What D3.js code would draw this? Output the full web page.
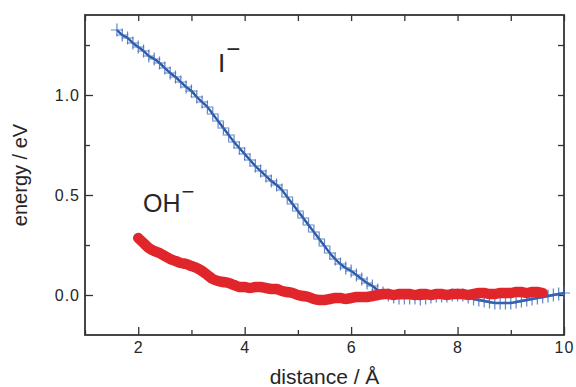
<!DOCTYPE html>
<html>
<head>
<meta charset="utf-8">
<script src="https://cdn.jsdelivr.net/npm/d3@7"></script>
<style>
  body { margin: 0; background: #fff; }
  text { font-family: "Liberation Sans", Arial, sans-serif; fill: #262626; }
</style>
</head>
<body>
<div id="chart"></div>
<script>
// I- (blue crosses): distance from 1.6 to 10.0 step 0.1
var iDist = d3.range(16, 101).map(function(d) { return d / 10; });
var iEnergy = [
  1.325, 1.30, 1.285, 1.26, 1.24, 1.22, 1.195, 1.18, 1.16, 1.135,
  1.11, 1.09, 1.065, 1.04, 1.02, 0.99, 0.965, 0.94, 0.905, 0.87,
  0.835, 0.80, 0.765, 0.735, 0.705, 0.675, 0.645, 0.62, 0.595, 0.57,
  0.55, 0.525, 0.49, 0.455, 0.42, 0.385, 0.35, 0.315, 0.28, 0.245,
  0.21, 0.18, 0.155, 0.135, 0.12, 0.10, 0.08, 0.06, 0.045, 0.025,
  0.01, 0.0, -0.01, -0.015, -0.015, -0.015, -0.015, -0.02, -0.015, -0.01,
  -0.005, -0.005, -0.005, 0.0, 0.0, 0.0, -0.01, -0.02, -0.025, -0.03,
  -0.035, -0.04, -0.04, -0.04, -0.04, -0.035, -0.03, -0.025, -0.02, -0.015,
  -0.01, -0.005, 0.0, 0.005, 0.01
];

// OH- (red band): distance from 2.0 to 9.6 step 0.1
var ohDist = d3.range(20, 97).map(function(d) { return d / 10; });
var ohEnergy = [
  0.285, 0.26, 0.235, 0.22, 0.21, 0.195, 0.18, 0.17, 0.16, 0.155,
  0.145, 0.135, 0.12, 0.10, 0.08, 0.07, 0.065, 0.06, 0.05, 0.04,
  0.04, 0.035, 0.04, 0.04, 0.035, 0.03, 0.03, 0.02, 0.015, 0.01,
  0.0, -0.005, -0.01, -0.02, -0.025, -0.025, -0.02, -0.015, -0.015, -0.02,
  -0.015, -0.01, -0.01, -0.01, -0.005, 0.0, 0.005, 0.005, 0.0, 0.005,
  0.005, 0.005, 0.0, 0.005, 0.005, 0.0, 0.005, 0.005, 0.0, 0.005,
  0.005, 0.005, 0.0, 0.005, 0.01, 0.01, 0.005, 0.005, 0.01, 0.01,
  0.01, 0.015, 0.015, 0.01, 0.015, 0.015, 0.01
];

var xTicks = [2, 4, 6, 8, 10];
var xMinor = [1, 3, 5, 7, 9];
var yTicks = [0.0, 0.5, 1.0];
var yMinor = [0.25, 0.75, 1.25];

var margin = {top: 15, right: 12, bottom: 52, left: 85},
    width = 576 - margin.left - margin.right,
    height = 387 - margin.top - margin.bottom;

var svg = d3.select("#chart")
  .append("svg")
    .attr("width", 576)
    .attr("height", 387)
  .append("g")
    .attr("transform", "translate(" + margin.left + "," + margin.top + ")");

var x = d3.scaleLinear().domain([1, 10]).range([0, width]);
var y = d3.scaleLinear().domain([-0.2, 1.4]).range([height, 0]);

var axisColor = "#333";

// axes with inward ticks, major labelled, minor shorter
function styleAxis(g) {
  g.select(".domain").remove();
  g.selectAll("line").attr("stroke", axisColor).attr("stroke-width", 1.3);
  g.selectAll("text")
    .style("font-size", "16px")
    .style("letter-spacing", "1px")
    .attr("fill", "#333");
}

svg.append("g")
  .attr("transform", "translate(0," + height + ")")
  .call(d3.axisBottom(x).tickValues(xTicks).tickSize(-8).tickPadding(7).tickFormat(d3.format("d")))
  .call(styleAxis);
svg.append("g")
  .attr("transform", "translate(0," + height + ")")
  .call(d3.axisBottom(x).tickValues(xMinor).tickSize(-5).tickFormat(""))
  .call(styleAxis);
svg.append("g")
  .call(d3.axisTop(x).tickValues(xTicks.concat(xMinor)).tickSize(-6).tickFormat(""))
  .call(styleAxis);

svg.append("g")
  .call(d3.axisLeft(y).tickValues(yTicks).tickSize(-8).tickPadding(5).tickFormat(d3.format(".1f")))
  .call(styleAxis);
svg.append("g")
  .call(d3.axisLeft(y).tickValues(yMinor).tickSize(-5).tickFormat(""))
  .call(styleAxis);
svg.append("g")
  .attr("transform", "translate(" + width + ",0)")
  .call(d3.axisRight(y).tickValues(yTicks.concat(yMinor)).tickSize(-6).tickFormat(""))
  .call(styleAxis);

// frame
svg.append("rect")
  .attr("width", width)
  .attr("height", height)
  .attr("fill", "none")
  .attr("stroke", axisColor)
  .attr("stroke-width", 1.8);

var iData = iDist.map(function(d, i) { return {x: d, y: iEnergy[i]}; });
var ohData = ohDist.map(function(d, i) { return {x: d, y: ohEnergy[i]}; });

var line = d3.line().curve(d3.curveCatmullRom)
  .x(function(d) { return x(d.x); })
  .y(function(d) { return y(d.y); });

// I- crosses
svg.append("path")
  .datum(iData)
  .attr("fill", "none")
  .attr("stroke", "#2a58a8")
  .attr("stroke-width", 2.4)
  .attr("d", line);

svg.selectAll(".cross")
  .data(iData)
  .enter()
  .append("path")
    .attr("class", "cross")
    .attr("transform", function(d) { return "translate(" + x(d.x) + "," + y(d.y) + ")"; })
    .attr("d", "M-6,0H6M0,-6.5V6.5")
    .attr("stroke", "#3b68b9")
    .attr("stroke-width", 1.2)
    .attr("opacity", 0.8);

// OH- band
svg.append("path")
  .datum(ohData)
  .attr("fill", "none")
  .attr("stroke", "#e1262b")
  .attr("stroke-width", 10.5)
  .attr("stroke-linecap", "round")
  .attr("stroke-linejoin", "round")
  .attr("d", line);

// series labels
var iLab = svg.append("text")
  .attr("x", 133)
  .attr("y", 57)
  .style("font-size", "26px");
iLab.append("tspan").text("I");
iLab.append("tspan").attr("dx", 1).attr("dy", -15).style("font-size", "24px").text("\u2212");

var ohLab = svg.append("text")
  .attr("x", 58)
  .attr("y", 197)
  .style("font-size", "25px");
ohLab.append("tspan").text("OH");
ohLab.append("tspan").attr("dx", 1).attr("dy", -13).style("font-size", "22px").text("\u2212");

// axis titles
svg.append("text")
  .attr("x", width / 2)
  .attr("y", height + 49)
  .style("text-anchor", "middle")
  .style("font-size", "21px")
  .text("distance / \u00c5");

svg.append("text")
  .attr("transform", "rotate(-90)")
  .attr("x", -height / 2)
  .attr("y", -58)
  .style("text-anchor", "middle")
  .style("font-size", "20px")
  .text("energy / eV");
</script>
</body>
</html>
